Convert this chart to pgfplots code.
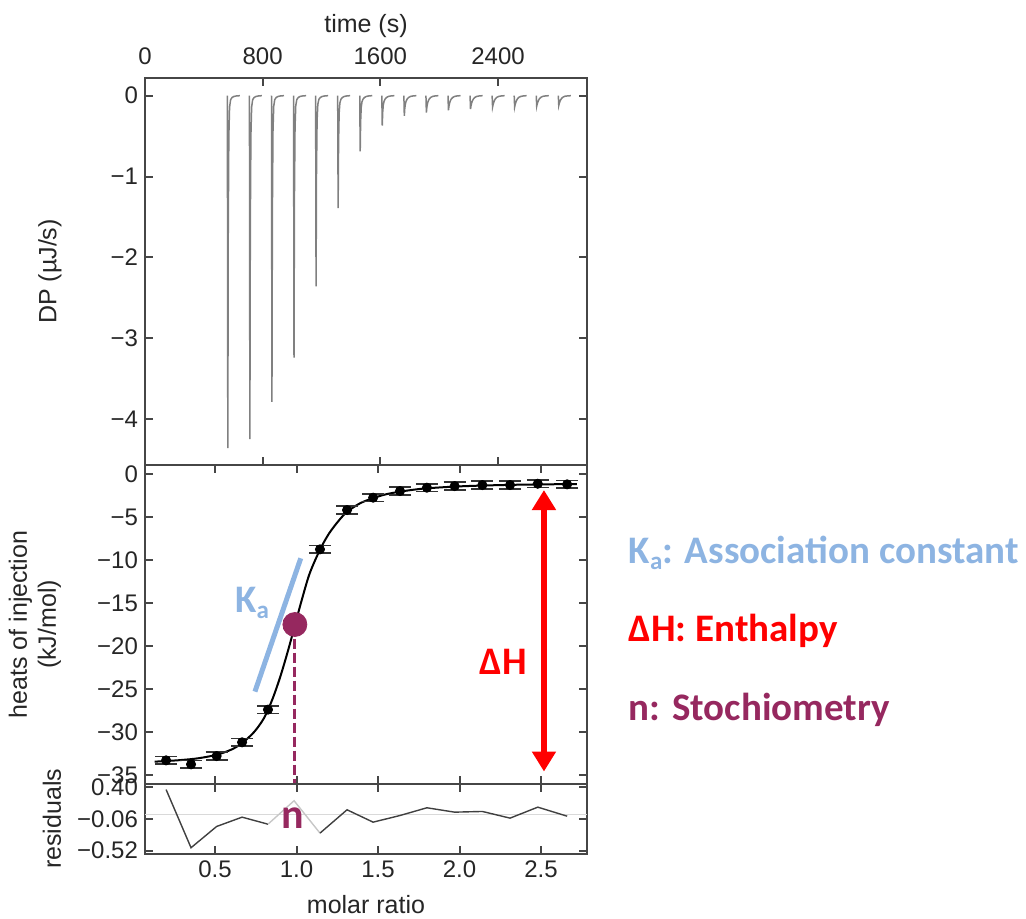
\documentclass[border=0pt]{standalone}
\usepackage{pgfplots}
\pgfplotsset{compat=1.18}
\usepackage{fontspec}
\setmainfont{Liberation Sans}
\newfontfamily\calib{Carlito}
\usetikzlibrary{arrows.meta}
\definecolor{kablue}{RGB}{141,180,226}
\definecolor{npurple}{RGB}{150,40,95}
\definecolor{axgray}{RGB}{70,70,70}

\pgfplotsset{
  itc/.style={
    scale only axis, width=221pt,
    axis line style={axgray, line width=1.2pt},
    tick style={axgray, line width=1pt},
    major tick length=4pt,
    tick align=inside,
    tick label style={font=\fontsize{12}{14}\selectfont, text=black!85},
    label style={font=\fontsize{12.5}{14.5}\selectfont, text=black!85},
    /pgf/number format/assume math mode=true,
  }
}

\pgfplotstableread{
x y e
0.200 -33.30 0.45
0.353 -33.76 0.45
0.510 -32.80 0.45
0.666 -31.20 0.45
0.825 -27.40 0.45
0.985 -17.50 0.45
1.144 -8.76 0.45
1.310 -4.19 0.45
1.470 -2.75 0.45
1.635 -1.98 0.45
1.800 -1.59 0.45
1.970 -1.40 0.45
2.140 -1.28 0.45
2.310 -1.28 0.45
2.480 -1.13 0.45
2.660 -1.20 0.45
}\heats

\pgfplotstableread{
x y
0.13 -33.45
0.20 -33.38
0.30 -33.25
0.40 -33.05
0.51 -32.65
0.60 -32.05
0.666 -31.3
0.74 -30.0
0.80 -28.4
0.85 -26.3
0.90 -23.6
0.95 -20.4
0.99 -17.6
1.03 -14.8
1.08 -11.6
1.144 -8.8
1.20 -6.9
1.26 -5.4
1.31 -4.4
1.39 -3.4
1.47 -2.8
1.55 -2.35
1.635 -2.05
1.72 -1.82
1.80 -1.66
1.97 -1.46
2.14 -1.34
2.31 -1.26
2.48 -1.21
2.72 -1.16
}\fit

\pgfplotstableread{
t dp
560 0
563 -4.36
566 -1.672
570 -0.502
575 -0.143
582 -0.050
592 -0.022
605 -0.009
625 -0.002
645 0
646 nan
710 0
713 -4.25
716 -1.632
720 -0.492
725 -0.141
732 -0.049
742 -0.022
755 -0.009
775 -0.002
795 0
796 nan
860 0
863 -3.79
866 -1.463
870 -0.447
875 -0.133
882 -0.049
892 -0.022
905 -0.009
925 -0.002
945 0
946 nan
1010 0
1013 -3.24
1016 -1.260
1020 -0.394
1025 -0.123
1032 -0.048
1042 -0.022
1055 -0.009
1075 -0.002
1095 0
1096 nan
1160 0
1163 -2.36
1166 -0.936
1170 -0.308
1175 -0.107
1182 -0.046
1192 -0.022
1205 -0.009
1225 -0.002
1245 0
1246 nan
1310 0
1313 -1.39
1316 -0.579
1320 -0.214
1325 -0.089
1332 -0.044
1342 -0.022
1355 -0.009
1375 -0.002
1395 0
1396 nan
1460 0
1463 -0.69
1466 -0.322
1470 -0.146
1475 -0.077
1482 -0.043
1492 -0.022
1505 -0.009
1525 -0.002
1545 0
1546 nan
1610 0
1613 -0.37
1616 -0.204
1620 -0.115
1625 -0.071
1632 -0.042
1642 -0.022
1655 -0.009
1675 -0.002
1695 0
1696 nan
1760 0
1763 -0.25
1766 -0.160
1770 -0.104
1775 -0.069
1782 -0.042
1792 -0.022
1805 -0.009
1825 -0.002
1845 0
1846 nan
1910 0
1913 -0.21
1916 -0.145
1920 -0.100
1925 -0.068
1932 -0.042
1942 -0.022
1955 -0.009
1975 -0.002
1995 0
1996 nan
2060 0
2063 -0.18
2066 -0.134
2070 -0.097
2075 -0.067
2082 -0.042
2092 -0.022
2105 -0.009
2125 -0.002
2145 0
2146 nan
2210 0
2213 -0.165
2216 -0.129
2220 -0.095
2225 -0.067
2232 -0.042
2242 -0.022
2255 -0.009
2275 -0.002
2295 0
2296 nan
2360 0
2363 -0.14
2366 -0.115
2370 -0.088
2375 -0.063
2382 -0.039
2392 -0.020
2405 -0.009
2425 -0.002
2445 0
2446 nan
2510 0
2513 -0.14
2516 -0.115
2520 -0.088
2525 -0.063
2532 -0.039
2542 -0.020
2555 -0.009
2575 -0.002
2595 0
2596 nan
2660 0
2663 -0.13
2666 -0.106
2670 -0.082
2675 -0.058
2682 -0.037
2692 -0.019
2705 -0.008
2725 -0.002
2745 0
2746 nan
2810 0
2813 -0.12
2816 -0.098
2820 -0.075
2825 -0.054
2832 -0.034
2842 -0.017
2855 -0.007
2875 -0.002
2895 0
}\thermo

\begin{document}
\begin{tikzpicture}
\useasboundingbox (0,0) rectangle (513pt,-459.5pt);

% ---------- top: raw thermogram ----------
\begin{axis}[itc, at={(72.5pt,-39pt)}, anchor=north west, height=193.5pt,
  xmin=0, xmax=3005, ymin=-4.57, ymax=0.219,
  xtick={0,800,1600,2400}, xticklabels={0,800,1600,2400},
  xticklabel pos=upper,
  xticklabel style={yshift=3pt},
  ytick={-4,-3,-2,-1,0}, yticklabels={−4,−3,−2,−1,0},
  xlabel={time (s)},
  xlabel style={at={(axis description cs:0.5,1)}, anchor=base, yshift=22.5pt},
  ylabel={DP (µJ/s)},
  ylabel style={at={([xshift=-47.5pt]axis description cs:0,0.5)}, anchor=center},
  unbounded coords=jump]
\addplot[black!50, line width=0.75pt] table[x=t, y=dp] {\thermo};
\end{axis}

% ---------- middle: integrated heats ----------
\begin{axis}[itc, at={(72.5pt,-232.5pt)}, anchor=north west, height=159.5pt,
  xmin=0.0706, xmax=2.782, ymin=-36.05, ymax=1.05,
  xtick={0.5,1,1.5,2,2.5}, xticklabels={},
  ytick={-35,-30,-25,-20,-15,-10,-5,0},
  yticklabels={−35,−30,−25,−20,−15,−10,−5,0},
  ylabel={heats of injection\\(kJ/mol)},
  ylabel style={align=center, at={([xshift=-55pt]axis description cs:0,0.5)}, anchor=center},
  clip=false]
\addplot[black, line width=1pt, smooth] table[x=x, y=y] {\fit};
\addplot[black, only marks, mark=*, mark size=2.3pt,
  error bars/.cd, y dir=both, y explicit,
  error bar style={line width=0.8pt, black},
  error mark options={rotate=90, mark size=5.5pt, line width=0.8pt, black!80}]
  table[x=x, y=y, y error=e] {\heats};
\draw[kablue, line width=2.5pt] (axis cs:0.745,-25.3) -- (axis cs:1.026,-9.8);
\node[kablue, font=\calib\bfseries\fontsize{19.5}{22}\selectfont] at (axis cs:0.727,-15.0)
  {K\raisebox{-0.35ex}{\fontsize{12.5}{12}\selectfont a}};
\draw[npurple, line width=1.6pt, dash pattern=on 5pt off 2pt] (axis cs:0.99,-17.5) -- (axis cs:0.99,-36.05);
\addplot[npurple, only marks, mark=*, mark size=6pt] coordinates {(0.99,-17.5)};
\draw[red, line width=3.3pt, {Triangle[width=11.5pt,length=10pt]}-{Triangle[width=11.5pt,length=10pt]}]
  (axis cs:2.518,-1.86) -- (axis cs:2.518,-34.6);
\node[red, font=\calib\bfseries\fontsize{19.5}{22}\selectfont] at (axis cs:2.267,-21.9) {ΔH};
\end{axis}

% ---------- bottom: residuals ----------
\begin{axis}[itc, at={(72.5pt,-392pt)}, anchor=north west, height=34.85pt,
  xmin=0.0706, xmax=2.782, ymin=-0.563, ymax=0.44,
  xtick={0.5,1,1.5,2,2.5}, xticklabels={0.5,1.0,1.5,2.0,2.5},
  ytick={-0.52,-0.06,0.40}, yticklabels={−0.52,−0.06,0.40},
  xlabel={molar ratio},
  xlabel style={at={(axis description cs:0.5,0)}, anchor=base, yshift=-29.65pt},
  ylabel={residuals},
  ylabel style={at={([xshift=-46.5pt]axis description cs:0,0.5)}, anchor=center},
  clip=false]
\addplot[black!15, line width=0.8pt] coordinates {(0.0706,0) (2.782,0)};
\addplot[black!75, line width=0.7pt] coordinates {(0.200,0.36) (0.353,-0.477) (0.510,-0.171) (0.666,-0.037) (0.825,-0.138)};
\addplot[black!22, line width=0.7pt] coordinates {(0.825,-0.138) (0.985,0.199) (1.144,-0.267)};
\addplot[black!75, line width=0.7pt] coordinates {(1.144,-0.267) (1.310,0.069) (1.470,-0.109) (1.635,-0.013) (1.800,0.098) (1.970,0.035) (2.140,0.045) (2.310,-0.051) (2.480,0.107) (2.660,-0.023)};
\node[npurple, anchor=base, font=\calib\bfseries\fontsize{21}{24}\selectfont] at (axis cs:0.975,-0.20) {n};
\end{axis}

% ---------- annotations at right ----------
\node[anchor=base west, kablue, font=\calib\bfseries\fontsize{19.5}{22}\selectfont] at (310.85pt,-281.5pt)
  {K\raisebox{-0.35ex}{\fontsize{12.5}{12}\selectfont a}: Association constant};
\node[anchor=base west, red, font=\calib\bfseries\fontsize{19.5}{22}\selectfont] at (310.85pt,-320.85pt)
  {ΔH: Enthalpy};
\node[anchor=base west, npurple, font=\calib\bfseries\fontsize{19.5}{22}\selectfont] at (310.85pt,-360pt)
  {n: Stochiometry};
\end{tikzpicture}
\end{document}
